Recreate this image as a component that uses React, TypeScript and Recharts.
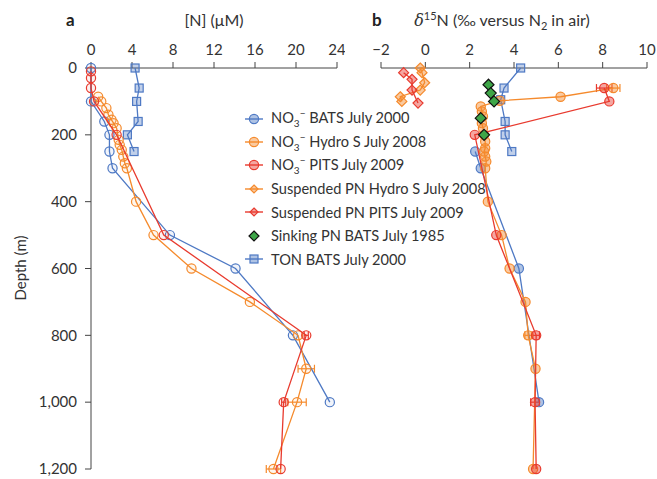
import React from "react";
import { ScatterChart, Scatter, XAxis, YAxis, ErrorBar } from "recharts";

const depthTicks = [0, 200, 400, 600, 800, 1000, 1200];
const nTicks = [0, 4, 8, 12, 16, 20, 24];
const d15Ticks = [-2, 0, 2, 4, 6, 8, 10];

// panel a: [N] (µM) vs depth (m)
const no3BatsA = [
  { x: 0, y: 0 }, { x: 0, y: 100 }, { x: 1.3, y: 160 }, { x: 1.8, y: 200 },
  { x: 1.8, y: 250 }, { x: 2.1, y: 300 }, { x: 7.7, y: 500 }, { x: 14.1, y: 600 },
  { x: 19.7, y: 800 }, { x: 23.3, y: 1000 },
];
const no3HydroA = [
  { x: 0.7, y: 86 }, { x: 1.0, y: 100 }, { x: 1.5, y: 120 }, { x: 1.7, y: 140 },
  { x: 2.0, y: 155 }, { x: 2.2, y: 165 }, { x: 2.5, y: 180 }, { x: 2.7, y: 215 },
  { x: 2.8, y: 230 }, { x: 3.0, y: 245 }, { x: 3.15, y: 265 }, { x: 3.3, y: 285 },
  { x: 3.5, y: 300 }, { x: 4.4, y: 400 }, { x: 6.1, y: 500 }, { x: 9.8, y: 600 },
  { x: 15.5, y: 700 }, { x: 20.2, y: 800 }, { x: 21.0, y: 900, err: 0.8 },
  { x: 20.1, y: 1000, err: 0.9 }, { x: 17.8, y: 1200, err: 0.7 },
];
const no3PitsA = [
  { x: 0, y: 10 }, { x: 0, y: 30 }, { x: 0, y: 60 }, { x: 0.3, y: 100 },
  { x: 2.5, y: 200 }, { x: 7.1, y: 500 }, { x: 21.0, y: 800, err: 0.2 },
  { x: 18.8, y: 1000, err: 0.2 }, { x: 18.5, y: 1200 },
];
const tonBatsA = [
  { x: 4.3, y: 0 }, { x: 4.7, y: 60 }, { x: 4.45, y: 100 }, { x: 4.6, y: 160 },
  { x: 3.55, y: 200 }, { x: 4.2, y: 250 },
];

// panel b: d15N (‰) vs depth (m)
const no3BatsB = [
  { x: 2.25, y: 250 }, { x: 2.5, y: 300 }, { x: 4.22, y: 600 }, { x: 5.13, y: 1000 },
];
const no3HydroB = [
  { x: 8.48, y: 60, err: 0.3 }, { x: 6.1, y: 86 }, { x: 3.36, y: 98 }, { x: 2.5, y: 115 },
  { x: 2.55, y: 130 }, { x: 2.6, y: 145 }, { x: 2.55, y: 165 }, { x: 2.6, y: 180 },
  { x: 2.65, y: 200 }, { x: 2.7, y: 220 }, { x: 2.7, y: 240 }, { x: 2.65, y: 250 },
  { x: 2.7, y: 265 }, { x: 2.75, y: 280 }, { x: 2.7, y: 300 }, { x: 2.82, y: 400 },
  { x: 3.44, y: 500 }, { x: 3.8, y: 600 }, { x: 4.52, y: 700 }, { x: 4.64, y: 800, err: 0.15 },
  { x: 4.97, y: 900 }, { x: 4.86, y: 1200 },
];
const no3PitsB = [
  { x: 8.07, y: 60, err: 0.35 }, { x: 8.3, y: 100 }, { x: 2.23, y: 200 }, { x: 3.2, y: 500 },
  { x: 5.0, y: 800, err: 0.15 }, { x: 4.95, y: 1000, err: 0.2 }, { x: 5.0, y: 1200 },
];
const suspHydroB = [
  { x: -0.23, y: 0 }, { x: -0.15, y: 14 }, { x: -0.03, y: 44 }, { x: -0.23, y: 66 },
  { x: -1.13, y: 86 }, { x: -1.06, y: 100 },
];
const suspPitsB = [
  { x: -0.98, y: 14 }, { x: -0.6, y: 34 }, { x: -0.6, y: 66 }, { x: -0.33, y: 105 },
];
const sinkingB = [
  { x: 2.85, y: 50 }, { x: 2.95, y: 75 }, { x: 3.1, y: 100 }, { x: 2.5, y: 150 }, { x: 2.65, y: 200 },
];
const tonBatsB = [
  { x: 4.3, y: 0 }, { x: 3.55, y: 60 }, { x: 3.4, y: 95 }, { x: 3.6, y: 160 },
  { x: 3.6, y: 200 }, { x: 3.9, y: 250 },
];

const BLUE = "#4e79c4";
const ORANGE = "#f58a2c";
const RED = "#e83a2e";
const GREEN = "#3ea648";
const AXIS = "#444";
const FONT = "Lato, 'DejaVu Sans', sans-serif";

const circleShape = (color: string, op: number) => (p: any) => (
  <circle cx={p.cx} cy={p.cy} r={4.6} stroke={color} strokeWidth={1.2} fill={color} fillOpacity={op} />
);
const squareShape = (color: string) => (p: any) => (
  <rect x={p.cx - 4} y={p.cy - 4} width={8} height={8} stroke={color} strokeWidth={1.2} fill={color} fillOpacity={0.35} />
);
const diamondShape = (color: string, stroke: string, r: number, op: number) => (p: any) => (
  <polygon
    points={`${p.cx},${p.cy - r} ${p.cx + r},${p.cy} ${p.cx},${p.cy + r} ${p.cx - r},${p.cy}`}
    stroke={stroke}
    strokeWidth={1.2}
    fill={color}
    fillOpacity={op}
  />
);

const tickStyle = { fontSize: 15, fill: "#333", fontFamily: FONT };
const minus = (v: number) => (v < 0 ? "\u2212" + Math.abs(v) : String(v));

const legendItems = [
  { kind: "circle", color: BLUE, label: "BATS July 2000", no3: true },
  { kind: "circle", color: ORANGE, label: "Hydro S July 2008", no3: true },
  { kind: "circle", color: RED, label: "PITS July 2009", no3: true },
  { kind: "diamond", color: ORANGE, label: "Suspended PN Hydro S July 2008" },
  { kind: "diamond", color: RED, label: "Suspended PN PITS July 2009" },
  { kind: "sinking", color: GREEN, label: "Sinking PN BATS July 1985" },
  { kind: "square", color: BLUE, label: "TON BATS July 2000" },
];

function LegendMarker({ kind, color }: any) {
  return (
    <svg width={20} height={14} style={{ display: "block" }}>
      {kind !== "sinking" && <line x1={1} x2={19} y1={7} y2={7} stroke={color} strokeWidth={1.4} />}
      {kind === "circle" && <circle cx={10} cy={7} r={4.6} stroke={color} strokeWidth={1.2} fill={color} fillOpacity={0.45} />}
      {kind === "square" && <rect x={6} y={3} width={8} height={8} stroke={color} strokeWidth={1.2} fill={color} fillOpacity={0.45} />}
      {kind === "diamond" && <polygon points="10,3 14,7 10,11 6,7" stroke={color} strokeWidth={1.2} fill={color} fillOpacity={0.45} />}
      {kind === "sinking" && <polygon points="10,2 15,7 10,12 5,7" stroke="#111" strokeWidth={1.2} fill={color} />}
    </svg>
  );
}

export default function App() {
  return (
    <div style={{ position: "absolute", left: 0, top: 0, width: 657, height: 479, background: "#fff", fontFamily: FONT, color: "#333" }}>
      <div style={{ position: "absolute", left: 0, top: 0 }}>
        <ScatterChart width={345} height={479} margin={{ top: 38, right: 8, bottom: 10, left: 0 }}>
          <XAxis
            type="number"
            dataKey="x"
            orientation="top"
            domain={[0, 24]}
            ticks={nTicks}
            height={30}
            tick={tickStyle}
            tickMargin={7}
            stroke={AXIS}
          />
          <YAxis
            type="number"
            dataKey="y"
            reversed
            domain={[0, 1200]}
            ticks={depthTicks}
            width={91}
            tick={tickStyle}
            tickMargin={8}
            stroke={AXIS}
            tickFormatter={(v: number) => v.toLocaleString("en-US")}
          />
          <Scatter data={no3BatsA} line={{ stroke: BLUE, strokeWidth: 1.3 }} shape={circleShape(BLUE, 0.08)} isAnimationActive={false} />
          <Scatter data={tonBatsA} line={{ stroke: BLUE, strokeWidth: 1.3 }} shape={squareShape(BLUE)} isAnimationActive={false} />
          <Scatter data={no3HydroA} line={{ stroke: ORANGE, strokeWidth: 1.3 }} shape={circleShape(ORANGE, 0.08)} isAnimationActive={false}>
            <ErrorBar dataKey="err" direction="x" width={4} stroke={ORANGE} strokeWidth={1.2} />
          </Scatter>
          <Scatter data={no3PitsA} line={{ stroke: RED, strokeWidth: 1.3 }} shape={circleShape(RED, 0.08)} isAnimationActive={false}>
            <ErrorBar dataKey="err" direction="x" width={4} stroke={RED} strokeWidth={1.2} />
          </Scatter>
        </ScatterChart>
      </div>
      <div style={{ position: "absolute", left: 340, top: 0 }}>
        <ScatterChart width={317} height={479} margin={{ top: 38, right: 10, bottom: 10, left: 41 }}>
          <XAxis
            type="number"
            dataKey="x"
            orientation="top"
            domain={[-2, 10]}
            ticks={d15Ticks}
            height={30}
            tick={tickStyle}
            tickMargin={7}
            stroke={AXIS}
            tickFormatter={minus}
          />
          <YAxis type="number" dataKey="y" reversed domain={[0, 1200]} hide />
          <Scatter data={tonBatsB} line={{ stroke: BLUE, strokeWidth: 1.3 }} shape={squareShape(BLUE)} isAnimationActive={false} />
          <Scatter data={no3BatsB} line={{ stroke: BLUE, strokeWidth: 1.3 }} shape={circleShape(BLUE, 0.45)} isAnimationActive={false} />
          <Scatter data={no3HydroB} line={{ stroke: ORANGE, strokeWidth: 1.3 }} shape={circleShape(ORANGE, 0.45)} isAnimationActive={false}>
            <ErrorBar dataKey="err" direction="x" width={4} stroke={ORANGE} strokeWidth={1.2} />
          </Scatter>
          <Scatter data={no3PitsB} line={{ stroke: RED, strokeWidth: 1.3 }} shape={circleShape(RED, 0.45)} isAnimationActive={false}>
            <ErrorBar dataKey="err" direction="x" width={4} stroke={RED} strokeWidth={1.2} />
          </Scatter>
          <Scatter data={suspHydroB} line={{ stroke: ORANGE, strokeWidth: 1.3 }} shape={diamondShape(ORANGE, ORANGE, 5, 0.45)} isAnimationActive={false} />
          <Scatter data={suspPitsB} line={{ stroke: RED, strokeWidth: 1.3 }} shape={diamondShape(RED, RED, 5, 0.45)} isAnimationActive={false} />
          <Scatter data={sinkingB} shape={diamondShape(GREEN, "#111", 5.5, 1)} isAnimationActive={false} />
        </ScatterChart>
      </div>

      <svg width={657} height={70} style={{ position: "absolute", left: 0, top: 0, pointerEvents: "none" }}>
        <text x={66} y={26} fontSize={17} fontWeight="bold" fill="#222" fontFamily={FONT}>a</text>
        <text x={214} y={26} fontSize={16} textAnchor="middle" fill="#333" fontFamily={FONT}>[N] (μM)</text>
        <text x={372} y={26} fontSize={17} fontWeight="bold" fill="#222" fontFamily={FONT}>b</text>
        <text x={502} y={26} fontSize={16} textAnchor="middle" fill="#333" fontFamily={FONT}>
          <tspan fontStyle="italic" fontFamily="'DejaVu Serif', serif">δ</tspan>
          <tspan fontSize={11} dy={-6}>15</tspan>
          <tspan dy={6}>N (‰ versus N</tspan>
          <tspan fontSize={11} dy={4}>2</tspan>
          <tspan dy={-4}> in air)</tspan>
        </text>
      </svg>
      <div
        style={{
          position: "absolute",
          left: 20,
          top: 268,
          transform: "translate(-50%, -50%) rotate(-90deg)",
          fontSize: 15,
          whiteSpace: "nowrap",
        }}
      >
        Depth (m)
      </div>

      <div style={{ position: "absolute", left: 244, top: 107 }}>
        {legendItems.map((it) => (
          <div key={it.label + it.color} style={{ display: "flex", alignItems: "center", height: 23.4, fontSize: 14.6, whiteSpace: "nowrap" }}>
            <LegendMarker kind={it.kind} color={it.color} />
            <span style={{ marginLeft: 7, lineHeight: "15px" }}>
              {it.no3 ? (
                <>
                  NO<span style={{ fontSize: 10, position: "relative", top: 4 }}>3</span>
                  <span style={{ fontSize: 10, position: "relative", top: -6 }}>−</span>{" "}
                </>
              ) : null}
              {it.label}
            </span>
          </div>
        ))}
      </div>
    </div>
  );
}
